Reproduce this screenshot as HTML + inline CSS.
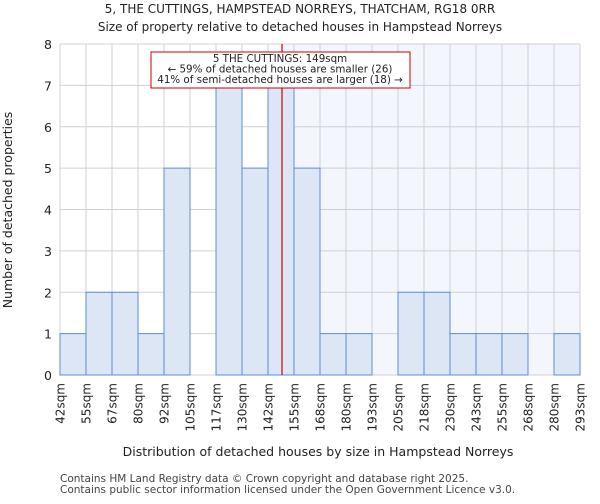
<!DOCTYPE html>
<html><head><meta charset="utf-8"><style>
body{margin:0;background:#fff;font-family:"DejaVu Sans","Liberation Sans",sans-serif;}
</style></head><body>
<svg id="chart" width="600" height="500" xmlns="http://www.w3.org/2000/svg" font-family="DejaVu Sans, Liberation Sans, sans-serif">
<text x="300" y="13" text-anchor="middle" font-size="12" fill="#222">5, THE CUTTINGS, HAMPSTEAD NORREYS, THATCHAM, RG18 0RR</text>
<text x="300" y="31" text-anchor="middle" font-size="12" fill="#222">Size of property relative to detached houses in Hampstead Norreys</text>
<g id="plot"></g>
<text x="318" y="456" text-anchor="middle" font-size="12.5" fill="#222">Distribution of detached houses by size in Hampstead Norreys</text>
<text transform="translate(12,210) rotate(-90)" text-anchor="middle" font-size="12.5" fill="#222">Number of detached properties</text>
<text x="60" y="482" font-size="10.5" fill="#444">Contains HM Land Registry data © Crown copyright and database right 2025.</text>
<text x="60" y="493" font-size="10.5" fill="#444">Contains public sector information licensed under the Open Government Licence v3.0.</text>
</svg>
<script>
const binLabels=["42sqm","55sqm","67sqm","80sqm","92sqm","105sqm","117sqm","130sqm","142sqm","155sqm","168sqm","180sqm","193sqm","205sqm","218sqm","230sqm","243sqm","255sqm","268sqm","280sqm","293sqm"];
const binStarts=[42,55,67,80,92,105,117,130,142,155,168,180,193,205,218,230,243,255,268,280,293];
const counts=[1,2,2,1,5,0,7,5,7,5,1,1,0,2,2,1,1,1,0,1];
const yTicks=[0,1,2,3,4,5,6,7,8];
const subjectSize=149;

const NS="http://www.w3.org/2000/svg";
const X0=60,X1=580,Y0=375,Y1=44,yMax=8;
const bw=(X1-X0)/counts.length;
function xIdx(i){return X0+i*bw;}
function yv(v){return Y0-(v/yMax)*(Y0-Y1);}
function xSize(s){
  for(let i=0;i<binStarts.length-1;i++){
    if(s>=binStarts[i]&&s<=binStarts[i+1]) return xIdx(i)+(s-binStarts[i])/(binStarts[i+1]-binStarts[i])*bw;
  }
  return X1;
}
const g=document.getElementById('plot');
function mk(tag,attrs){const e=document.createElementNS(NS,tag);for(const k in attrs)e.setAttribute(k,attrs[k]);g.appendChild(e);return e;}
const sx=xSize(subjectSize);
let e=mk('rect',{x:sx,y:Y1,width:X1-sx,height:Y0-Y1,fill:'#f3f6fc'});


for(let i=0;i<=counts.length;i++){
  e=mk('line',{x1:xIdx(i),x2:xIdx(i),y1:Y1,y2:Y0,stroke:'#d0d0d0','stroke-width':1});
  
  
}
yTicks.forEach(t=>{
  e=mk('line',{x1:X0,x2:X1,y1:yv(t),y2:yv(t),stroke:'#d0d0d0','stroke-width':1});
  
  
  e=mk('text',{x:X0-8,y:yv(t)+5,'text-anchor':'end','font-size':12.5,fill:'#222'});
  e.textContent=t;
  
  
});
counts.forEach((c,i)=>{
  if(c<=0)return;
  e=mk('rect',{x:xIdx(i),y:yv(c),width:bw,height:Y0-yv(c),fill:'#dce6f4',stroke:'#5b8fd6','stroke-width':1});
  
  
});
binLabels.forEach((l,i)=>{
  const x=xIdx(i);
  e=mk('text',{transform:`translate(${x+4.5},${Y0+8}) rotate(-90)`,'text-anchor':'end','font-size':12,fill:'#222'});
  e.textContent=l;
  
  
});
e=mk('line',{x1:sx,x2:sx,y1:Y1,y2:Y0,stroke:'#cc0000','stroke-width':1.2});


e=mk('rect',{x:151,y:52,width:259,height:36,fill:'#fff',stroke:'#cc0000','stroke-width':1});


const ann=["5 THE CUTTINGS: 149sqm","← 59% of detached houses are smaller (26)","41% of semi-detached houses are larger (18) →"];
ann.forEach((t,i)=>{
  e=mk('text',{x:280,y:62+i*10.5,'text-anchor':'middle','font-size':10.3,fill:'#222'});
  e.textContent=t;
  
  
});
</script>
</body></html>
